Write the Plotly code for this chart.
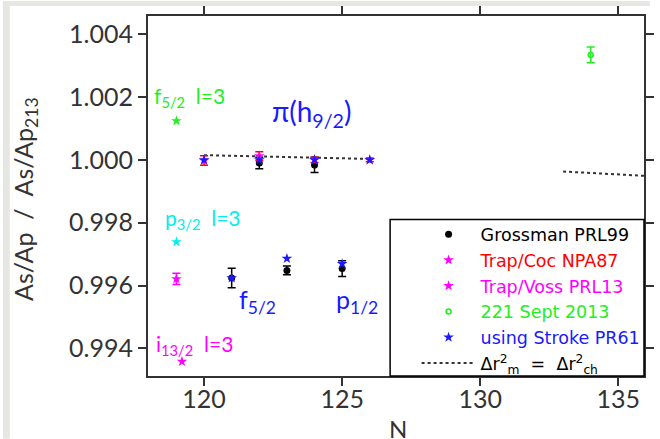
import plotly.graph_objects as go

# ---- data ----
gross_N = [121, 122, 123, 124, 125]
gross_v = [0.99624, 0.99990, 0.99648, 0.99984, 0.99654]
gross_e = [0.00031, 0.00018, 0.00014, 0.00024, 0.00025]

coc_N = [120, 122, 124, 126]
coc_v = [0.99998, 1.00012, 1.00000, 1.00000]
coc_e = [0.00015, 0.00014, 0.00008, 0.00006]

voss_N = [119]
voss_v = [0.99621]
voss_e = [0.00018]

sept_N = [134]
sept_v = [1.00334]
sept_e = [0.00025]

stroke_N = [120, 121, 122, 123, 124, 125, 126]
stroke_v = [1.00000, 0.99624, 1.00000, 0.99686, 1.00000, 0.99669, 1.00000]

dr_N1 = [120, 122, 124, 126]
dr_v1 = [1.00015, 1.00012, 1.00007, 1.00003]
dr_N2 = [133, 136]
dr_v2 = [0.99963, 0.99949]

f52_N, f52_v = [119], [1.00124]
p32_N, p32_v = [119], [0.99739]
i132_N, i132_v = [119.2], [0.99358]

x_ticks = [120, 125, 130, 135]
y_ticks = [0.994, 0.996, 0.998, 1.000, 1.002, 1.004]

FONT = "Lato"
LFONT = "DejaVu Sans"
GREEN = "#22ee22"
CYAN = "#00eeee"
MAG = "#ff00ff"
BLUE = "#1a1aff"
RED = "#ff0000"

fig = go.Figure()

fig.add_trace(go.Scatter(
    x=dr_N1 + [None] + dr_N2, y=dr_v1 + [None] + dr_v2, mode="lines",
    line=dict(color="#333333", width=2, dash="dot"),
    name="Δr<sup>2</sup><sub>m</sub>  =  Δr<sup>2</sup><sub>ch</sub>",
    legendrank=6))

fig.add_trace(go.Scatter(
    x=gross_N, y=gross_v, mode="markers",
    marker=dict(symbol="circle", size=7, color="black"),
    error_y=dict(type="data", array=gross_e, color="black", thickness=1.5, width=4),
    name="Grossman PRL99", legendrank=1))

fig.add_trace(go.Scatter(
    x=coc_N, y=coc_v, mode="markers",
    marker=dict(symbol="star", size=8, color=MAG),
    error_y=dict(type="data", array=coc_e, color=RED, thickness=1.5, width=4),
    name=f"<span style='color:{RED}'>Trap/Coc NPA87</span>", legendrank=2))

fig.add_trace(go.Scatter(
    x=voss_N, y=voss_v, mode="markers",
    marker=dict(symbol="star", size=8, color=MAG),
    error_y=dict(type="data", array=voss_e, color=MAG, thickness=1.5, width=4),
    name=f"<span style='color:{MAG}'>Trap/Voss PRL13</span>", legendrank=3))

fig.add_trace(go.Scatter(
    x=i132_N, y=i132_v, mode="markers",
    marker=dict(symbol="star", size=8, color=MAG), showlegend=False))

fig.add_trace(go.Scatter(
    x=f52_N, y=f52_v, mode="markers",
    marker=dict(symbol="star", size=8, color=GREEN), showlegend=False))

fig.add_trace(go.Scatter(
    x=p32_N, y=p32_v, mode="markers",
    marker=dict(symbol="star", size=8, color=CYAN), showlegend=False))

fig.add_trace(go.Scatter(
    x=sept_N, y=sept_v, mode="markers",
    marker=dict(symbol="circle-open", size=5, color=GREEN, line=dict(width=1.5)),
    error_y=dict(type="data", array=sept_e, color=GREEN, thickness=1.5, width=4),
    name=f"<span style='color:{GREEN}'>221 Sept 2013</span>", legendrank=4))

fig.add_trace(go.Scatter(
    x=stroke_N, y=stroke_v, mode="markers",
    marker=dict(symbol="star", size=8, color=BLUE),
    name=f"<span style='color:{BLUE}'>using Stroke PR61</span>", legendrank=5))

ann = [
    dict(x=118.1, y=1.0020, text="f<sub>5/2</sub>  l=3", color=GREEN, size=21),
    dict(x=122.4, y=1.0015, text="π(h<sub>9/2</sub>)", color=BLUE, size=28),
    dict(x=118.5, y=0.99813, text="p<sub>3/2</sub>  l=3", color=CYAN, size=21),
    dict(x=121.2, y=0.99550, text="f<sub>5/2</sub>", color=BLUE, size=25),
    dict(x=124.7, y=0.99550, text="p<sub>1/2</sub>", color=BLUE, size=25),
    dict(x=118.2, y=0.99410, text="i<sub>13/2</sub>  l=3", color=MAG, size=21),
]
for a in ann:
    fig.add_annotation(x=a["x"], y=a["y"], text=a["text"], showarrow=False,
                       xanchor="left", yanchor="middle",
                       font=dict(family=FONT, size=a["size"], color=a["color"]))

# axis titles
fig.add_annotation(xref="paper", yref="paper", x=-0.249, y=0.493,
                   text="As/Ap  /  As/Ap<sub>213</sub>", textangle=-90, showarrow=False,
                   xanchor="center", yanchor="middle",
                   font=dict(family=FONT, size=25, color="#333333"))
fig.add_annotation(xref="paper", yref="paper", x=0.504, y=-0.145,
                   text="N", showarrow=False, xanchor="center", yanchor="middle",
                   font=dict(family=FONT, size=24, color="#333333"))

# grey frame strips (top & left)
GREY = "#e6e6e2"
fig.add_shape(type="rect", xref="paper", yref="paper",
              x0=-148/506, x1=(660-148)/506, y0=1+10/361, y1=1+15/361,
              fillcolor=GREY, line=dict(width=0), layer="below")
fig.add_shape(type="rect", xref="paper", yref="paper",
              x0=-148/506, x1=(7-148)/506, y0=1-(439-15)/361, y1=1+15/361,
              fillcolor=GREY, line=dict(width=0), layer="below")

# legend frame
fig.add_shape(type="rect", xref="paper", yref="paper",
              x0=(395-148)/506, x1=1.0, y0=0.0, y1=1-(219-15)/361,
              fillcolor="white", line=dict(color="black", width=1.5), layer="above")

axis_common = dict(showline=True, linecolor="#333333", linewidth=2, mirror="allticks",
                   ticks="outside", ticklen=8, tickwidth=2, tickcolor="#333333",
                   showgrid=False, zeroline=False,
                   tickfont=dict(family=FONT, size=25, color="#333333"))

fig.update_xaxes(range=[117.97, 135.93], tickvals=x_ticks, ticklabelstandoff=-8,
                 **axis_common)
fig.update_yaxes(range=[0.99312, 1.00458], tickvals=y_ticks, tickformat=".3f",
                 **axis_common)

fig.update_layout(
    width=660, height=439,
    margin=dict(l=148, r=6, t=15, b=63),
    paper_bgcolor="white", plot_bgcolor="white",
    font=dict(family=FONT, color="#333333"),
    showlegend=True,
    legend=dict(x=(422-148)/506, xanchor="left", y=1-(216-15)/361, yanchor="top",
                bgcolor="rgba(0,0,0,0)", borderwidth=0,
                font=dict(family=LFONT, size=17.5, color="black"),
                itemwidth=54, tracegroupgap=0),
)

fig.write_html("out.html")
